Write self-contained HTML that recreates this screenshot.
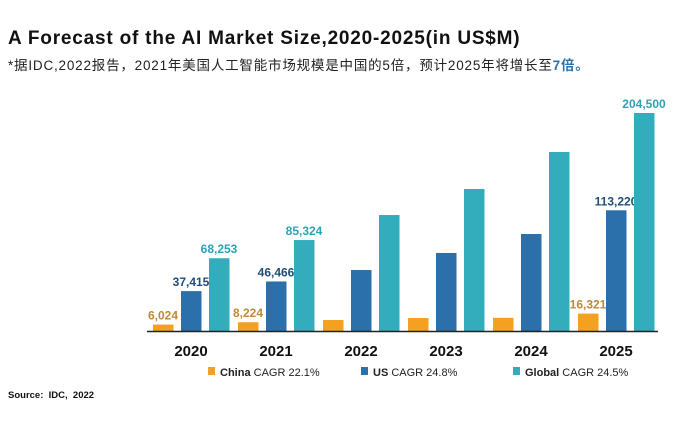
<!DOCTYPE html>
<html><head><meta charset="utf-8"><style>
body{margin:0;background:#fff;width:690px;height:424px;overflow:hidden;position:relative;font-family:"Liberation Sans","Noto Sans CJK SC",sans-serif}
.t{position:absolute;white-space:nowrap}
</style></head><body>
<div class="t" style="left:8px;top:28px;font-size:19px;font-weight:bold;color:#111;letter-spacing:0.8px">A Forecast of the AI Market Size,2020-2025(in US$M)</div>
<div class="t" style="left:8px;top:54px;font-size:13.5px;color:#222;letter-spacing:0.8px">*据IDC,2022报告，2021年美国人工智能市场规模是中国的5倍，预计2025年将增长至<b style="color:#2B6FAB">7倍。</b></div>
<div class="t" style="left:8px;top:390px;font-size:9.5px;font-weight:bold;color:#111">Source:&nbsp; IDC,&nbsp; 2022</div>
<svg id="c" width="690" height="424" style="position:absolute;left:0;top:0"></svg>
<script>
const years=["2020","2021","2022","2023","2024","2025"];
const china=[6024,8224,10300,12200,12400,16321];
const us=[37415,46466,57200,73200,91000,113220];
const global=[68253,85324,108800,133200,167900,204500];
const chinaLabels=["6,024","8,224","","","","16,321"];
const usLabels=["37,415","46,466","","","","113,220"];
const globalLabels=["68,253","85,324","","","","204,500"];
const legendNames=["China","US","Global"];
const legendCagr=[" CAGR 22.1%"," CAGR 24.8%"," CAGR 24.5%"];
const svg=document.getElementById('c');const NS='http://www.w3.org/2000/svg';
const base=331,k=218/204500;
const y=v=>base-v*k;
const x0=i=>153+i*85;
function mk(t,a){const e=document.createElementNS(NS,t);for(const p in a)e.setAttribute(p,a[p]);svg.appendChild(e);return e;}
const series=[[china,chinaLabels,'#F4A020','#C0883A','china'],[us,usLabels,'#2B6FAB','#1F4E7A','us'],[global,globalLabels,'#33ADBC','#2CA3B5','global']];
years.forEach((yr,i)=>{
 series.forEach((s,j)=>{
  const bx=x0(i)+j*28,v=s[0][i];
  const r=mk('rect',{x:bx,y:y(v),width:20.5,height:v*k,fill:s[2]});
  
  
  if(s[1][i]){const t=mk('text',{x:bx+10,y:y(v)-5,'text-anchor':'middle','font-size':12,'font-weight':'bold',fill:s[3]});t.textContent=s[1][i];
   
   }
 });
 const t=mk('text',{x:x0(i)+38,y:356,'text-anchor':'middle','font-size':15,'font-weight':'bold',fill:'#111'});t.textContent=yr;
 
 
});
const ax=mk('line',{x1:147,x2:658,y1:331.5,y2:331.5,stroke:'#222','stroke-width':1.5});


const lx=[208,361,513];
legendNames.forEach((n,j)=>{
 const r=mk('rect',{x:lx[j],y:367,width:7,height:8,fill:series[j][2]});
 
 
 const t=mk('text',{x:lx[j]+12,y:376,'font-size':11,fill:'#222'});
 t.innerHTML='<tspan font-weight="bold">'+n+'</tspan>'+legendCagr[j];
 
 
});
</script>
</body></html>
